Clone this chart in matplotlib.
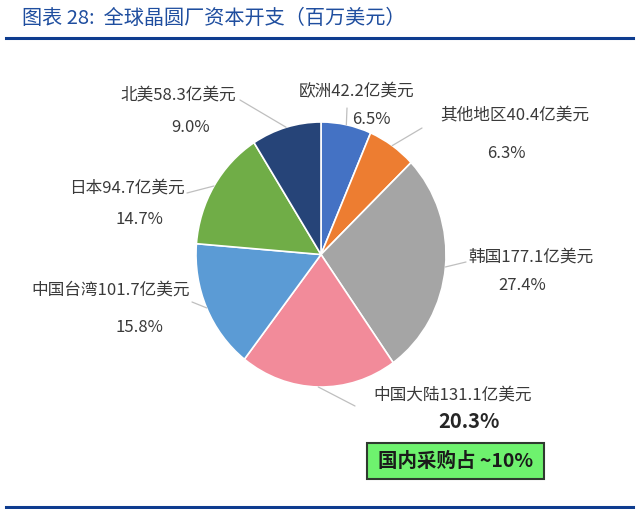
import numpy as np
import matplotlib.pyplot as plt
from matplotlib.patches import Rectangle
from matplotlib.lines import Line2D

plt.rcParams['font.family'] = ['Noto Sans CJK SC', 'DejaVu Sans']

# data
regions = ['欧洲', '其他地区', '韩国', '中国大陆', '中国台湾', '日本', '北美']
capex = [42.2, 40.4, 177.1, 131.1, 101.7, 94.7, 58.3]   # 亿美元
shares = [6.5, 6.3, 27.4, 20.3, 15.8, 14.7, 9.0]       # %
colors = ['#4472C4', '#ED7D31', '#A5A5A5', '#F28B9A', '#5B9BD5', '#70AD47', '#264478']

title = '图表 28:  全球晶圆厂资本开支（百万美元）'
note = '国内采购占 ~10%'

# layout, in output pixels measured from the top-left corner
W, H = 640, 509
name_pos = [(357, 92), (515, 115), (531, 257), (453, 395), (111, 290), (127, 188), (178, 95)]
pct_pos = [(371, 120), (506, 153), (522, 285), (469, 422), (139, 327), (139, 220), (191, 127)]
leader_end = [(347, 108), (422, 128), (466, 262), (355, 406), (192, 302), (187, 193), (240, 100)]


def fx(x):
    return x / W


def fy(y):
    return 1 - y / H


fig = plt.figure(figsize=(W / 100, H / 100), dpi=100)

# pie is slightly taller than wide in the reference
ax = fig.add_axes([fx(196), fy(387), 250 / W, 265 / H])
wedges, _ = ax.pie(shares, colors=colors, startangle=90, counterclock=False, radius=1,
                   wedgeprops=dict(edgecolor='white', linewidth=1.2))
ax.set_xlim(-1, 1)
ax.set_ylim(-1, 1)
ax.set_aspect('auto')
ax.axis('off')

txt_color = '#3A3A3A'
for i, (name, val, pct) in enumerate(zip(regions, capex, shares)):
    mid = np.deg2rad((wedges[i].theta1 + wedges[i].theta2) / 2)
    ex, ey = leader_end[i]
    ax.annotate('', xy=(np.cos(mid), np.sin(mid)), xycoords='data',
                xytext=(ex, H - ey), textcoords='figure pixels', annotation_clip=False,
                arrowprops=dict(arrowstyle='-', color='#BFBFBF', lw=0.9, shrinkA=0, shrinkB=0))
    nx, ny = name_pos[i]
    fig.text(fx(nx), fy(ny), f'{name}{val:.1f}亿美元', ha='center', va='center',
             fontsize=12, fontweight='medium', color=txt_color)
    px, py = pct_pos[i]
    if name == '中国大陆':
        fig.text(fx(px), fy(py), f'{pct:.1f}%', ha='center', va='center',
                 fontsize=14.5, fontweight='bold', color='#262626')
    else:
        fig.text(fx(px), fy(py), f'{pct:.1f}%', ha='center', va='center',
                 fontsize=12, fontweight='medium', color=txt_color)

# green note box
fig.add_artist(Rectangle((fx(367), fy(479)), 177 / W, 36 / H, transform=fig.transFigure,
                         facecolor='#6EF26E', edgecolor='#2F3A2F', linewidth=1.5))
fig.text(fx(455.5), fy(461), note, ha='center', va='center', fontsize=14,
         fontweight='bold', color='#1A1A1A')

# title and rules
fig.text(fx(22), fy(18), title, ha='left', va='center', fontsize=14.5, color='#1F4E9F',
         style='italic')
for y in (38, 507):
    fig.add_artist(Line2D([fx(6), fx(633)], [fy(y), fy(y)], color='#0E3C8F', linewidth=2.2,
                          transform=fig.transFigure))

fig.savefig('out.png', dpi=100)
